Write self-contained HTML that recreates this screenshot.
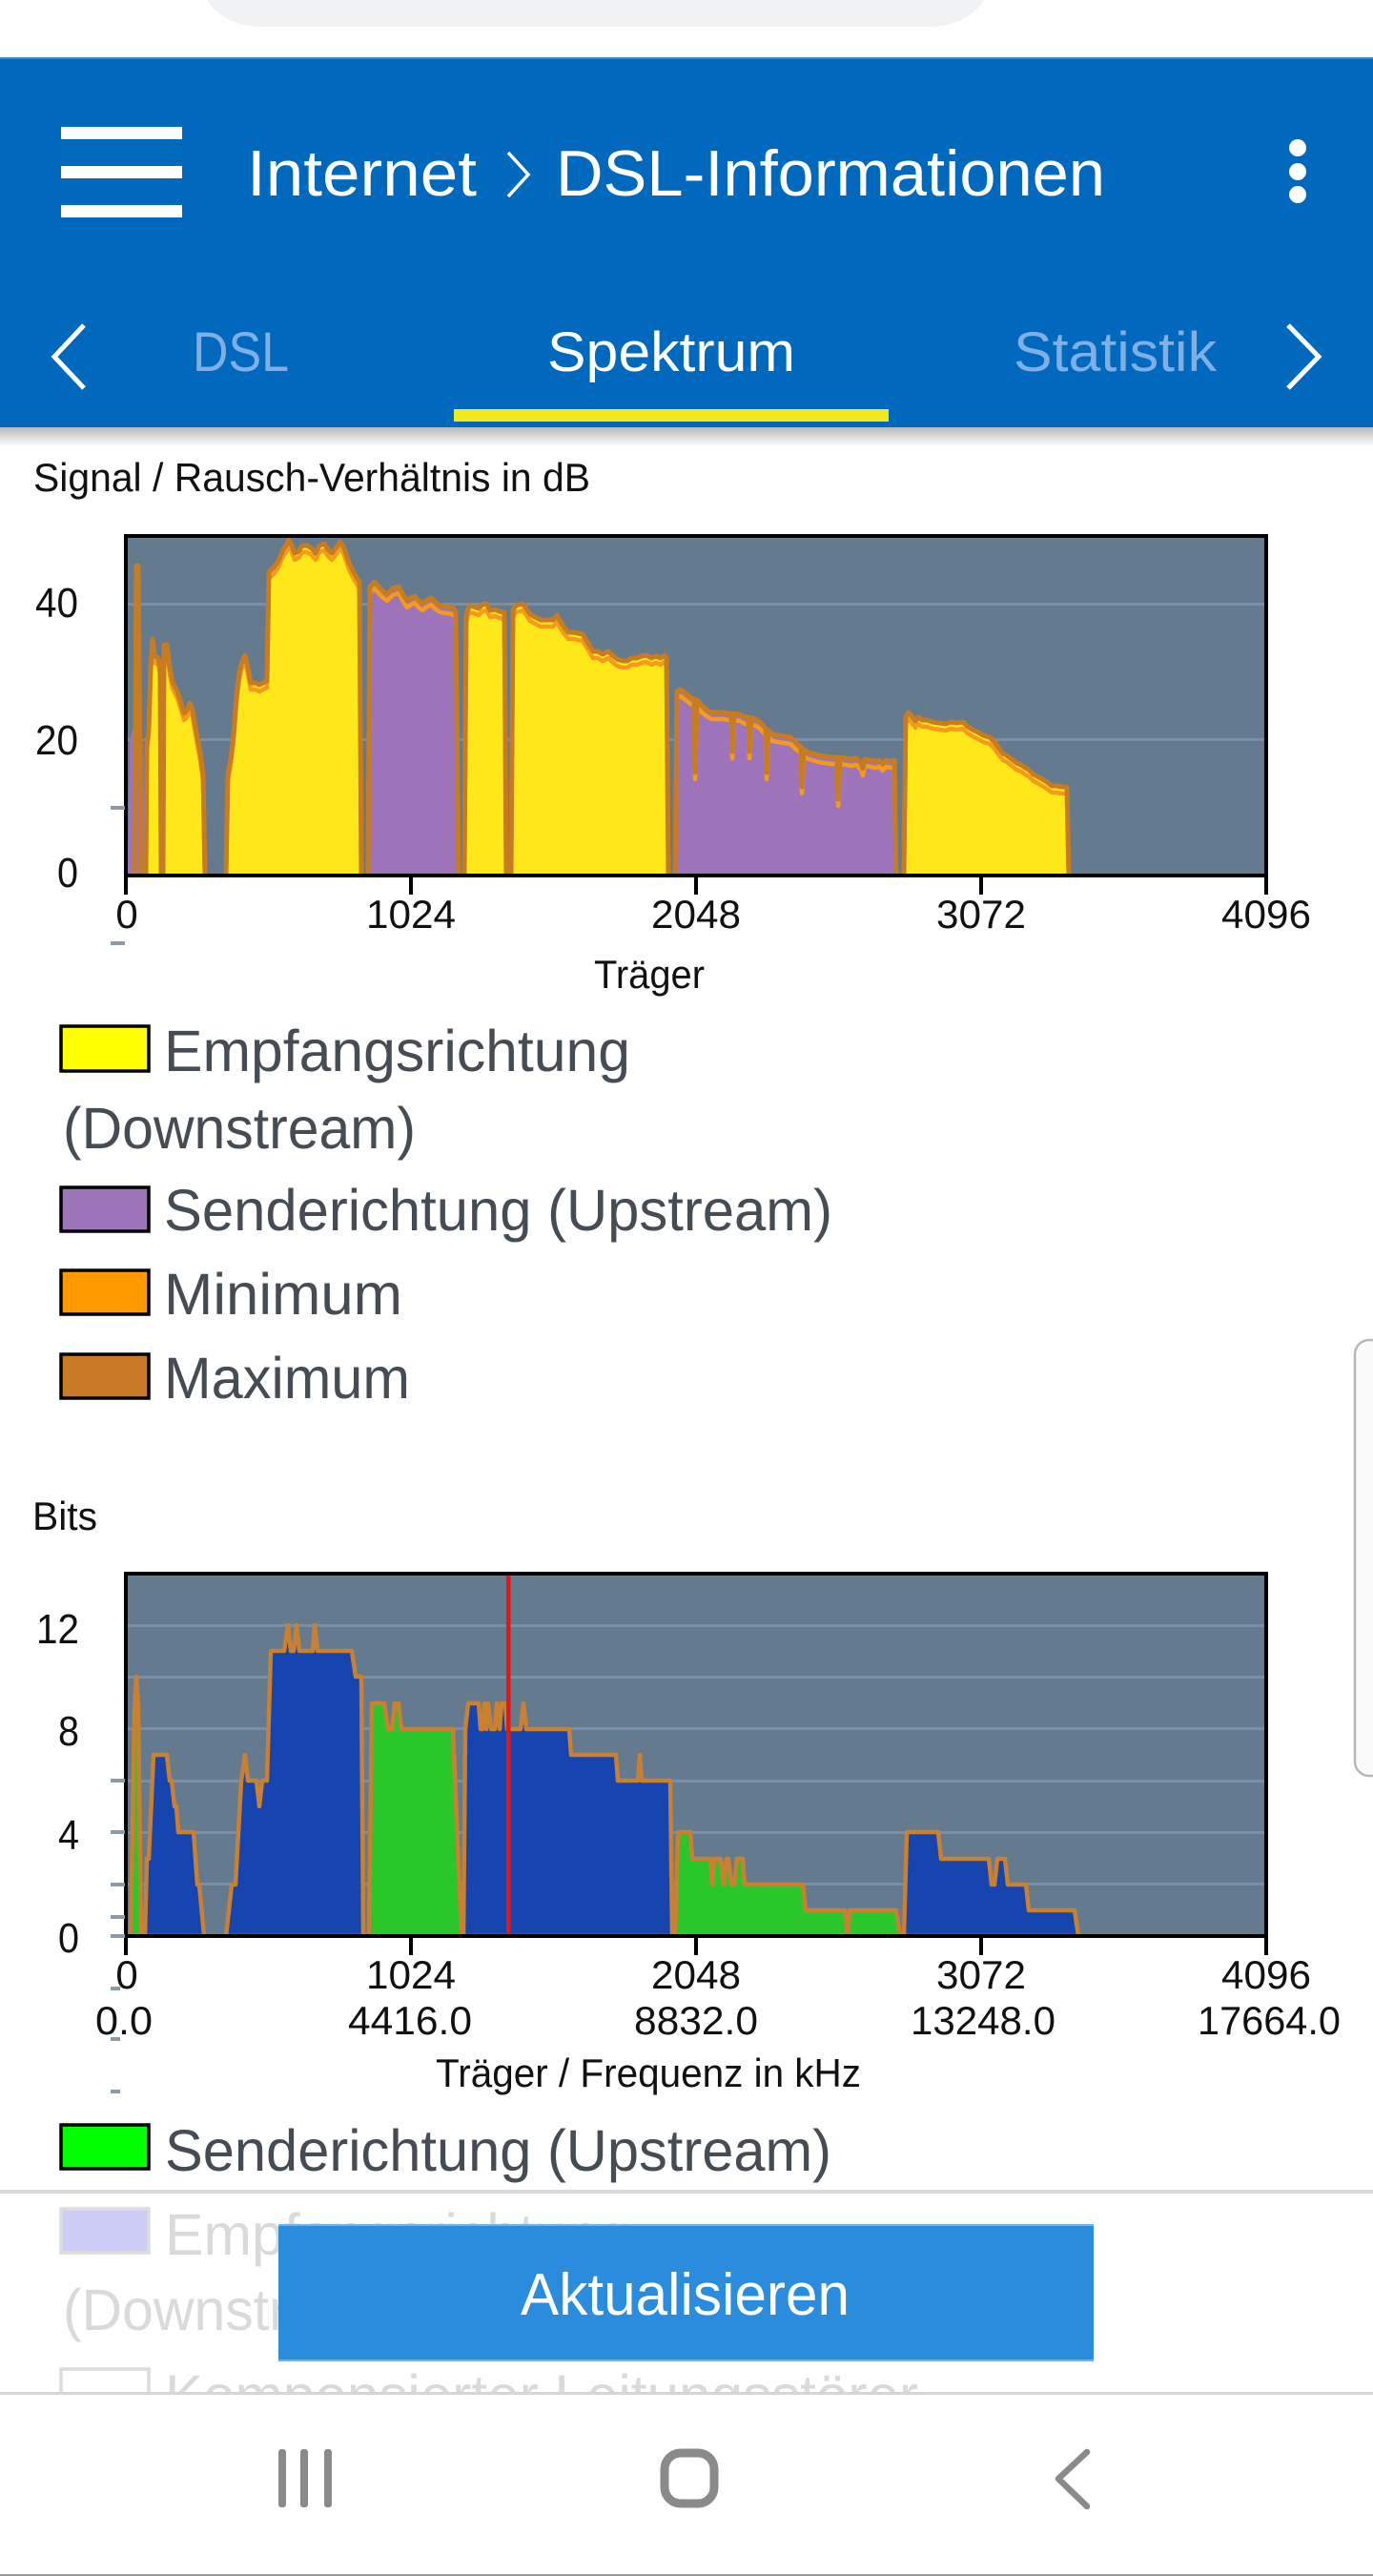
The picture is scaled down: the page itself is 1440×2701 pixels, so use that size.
<!DOCTYPE html>
<html>
<head>
<meta charset="utf-8">
<style>
html,body{margin:0;padding:0;background:#fff;}
svg{display:block;}
text{font-family:"Liberation Sans",sans-serif;}
</style>
</head>
<body>
<svg width="1440" height="2701" viewBox="0 0 1440 2701" xmlns="http://www.w3.org/2000/svg">
<defs>
  <linearGradient id="hshadow" x1="0" y1="0" x2="0" y2="1">
    <stop offset="0" stop-color="#000" stop-opacity="0.28"/>
    <stop offset="1" stop-color="#000" stop-opacity="0"/>
  </linearGradient>
  <clipPath id="clip1"><rect x="134" y="564" width="1192" height="352"/></clipPath>
  <clipPath id="clip2"><rect x="134" y="1652" width="1192" height="376"/></clipPath>
  <clipPath id="clipFade"><rect x="0" y="2300" width="1440" height="209"/></clipPath>
</defs>

<!-- top status area -->
<rect x="0" y="0" width="1440" height="60" fill="#ffffff"/>
<rect x="211" y="-70" width="827" height="98" rx="62" ry="62" fill="#f1f2f4"/>

<!-- header -->
<rect x="0" y="60" width="1440" height="388" fill="#0069bd"/>
<rect x="0" y="60" width="1440" height="2" fill="#3d8ad0"/>
<rect x="0" y="448" width="1440" height="20" fill="url(#hshadow)"/>

<!-- hamburger -->
<rect x="64" y="133" width="127" height="13" fill="#fff"/>
<rect x="64" y="174" width="127" height="13" fill="#fff"/>
<rect x="64" y="215" width="127" height="13" fill="#fff"/>

<!-- title -->
<text x="259" y="205" font-size="68" fill="#fff" textLength="241" lengthAdjust="spacingAndGlyphs">Internet</text>
<polyline points="533,160 554,183 533,206" fill="none" stroke="#fff" stroke-width="3.5"/>
<text x="583" y="205" font-size="68" fill="#fff" textLength="576" lengthAdjust="spacingAndGlyphs">DSL-Informationen</text>

<!-- kebab -->
<circle cx="1361" cy="155" r="9" fill="#fff"/>
<circle cx="1361" cy="180" r="9" fill="#fff"/>
<circle cx="1361" cy="204" r="9" fill="#fff"/>

<!-- tabs -->
<polyline points="88,341 57,374 88,407" fill="none" stroke="#fff" stroke-width="5"/>
<text x="202" y="389" font-size="58" fill="#7eb0e6" textLength="101" lengthAdjust="spacingAndGlyphs">DSL</text>
<text x="574" y="389" font-size="58" fill="#fff" textLength="260" lengthAdjust="spacingAndGlyphs">Spektrum</text>
<text x="1063" y="389" font-size="58" fill="#7eb0e6" textLength="213" lengthAdjust="spacingAndGlyphs">Statistik</text>
<polyline points="1351,341 1383,374 1351,407" fill="none" stroke="#fff" stroke-width="5"/>
<rect x="476" y="429" width="456" height="13" fill="#f2e81e"/>

<!-- ============ CHART 1 ============ -->
<text x="35" y="515" font-size="42" fill="#111" textLength="584" lengthAdjust="spacingAndGlyphs">Signal / Rausch-Verhältnis in dB</text>

<rect x="132" y="562" width="1196" height="356" fill="#647a8f"/>
<rect x="134" y="632" width="1192" height="3" fill="#7a8fa4"/>
<rect x="134" y="774" width="1192" height="3" fill="#7a8fa4"/>

<g clip-path="url(#clip1)">
  <g>
    <polygon fill="#9d74b9" points="134,918 136,775 139,765 141,770 147,768 150,775 152,918"/>
    <polygon fill="#ffe81a" points="153,918 154,780 156,765 158,700 160,670 162,688 166,690 168,700 169,918"/>
    <polygon fill="#ffe81a" points="171,918 172,676 175,676 178,700 181,715 186,725 190,738 193,748 196,745 199,737 202,745 206,768 210,790 213,812 215,918"/>
    <polygon fill="#ffe81a" points="237,918 239,812 242,795 245,770 248,730 251,705 254,693 257,687 260,700 263,716 268,716 272,718 276,716 280,714 282,600 287,595 292,588 297,576 300,572 303,566 306,572 309,580 313,578 317,572 322,572 327,575 331,580 335,572 340,570 344,576 348,580 352,575 357,568 361,575 366,590 372,602 377,610 379,918"/>
    <polygon fill="#9d74b9" points="386,918 388,615 393,610 397,615 402,620 406,623 412,617 418,615 423,624 427,630 431,627 435,625 439,630 443,633 448,629 452,627 457,632 462,635 468,636 475,637 478,642 481,918"/>
    <polygon fill="#ffe81a" points="487,918 489,645 492,635 497,636 502,638 506,634 510,633 514,640 519,639 524,641 529,642 531,918"/>
    <polygon fill="#ffe81a" points="536,918 538,640 541,635 545,634 548,633 552,638 556,644 561,647 567,650 574,650 580,650 584,645 588,652 592,658 596,663 601,663 606,664 611,665 616,673 622,683 627,683 632,686 638,683 642,687 647,691 653,693 658,693 662,690 668,690 673,688 678,687 683,690 688,688 693,690 697,687 699,690 701,918"/>
    <polygon fill="#9d74b9" points="708,918 710,725 714,723 719,727 724,731 728,733 729,810 731,734 736,740 741,744 746,747 752,747 758,747 764,748 767,748 768,788 770,748 776,749 781,752 785,752 786,788 788,753 793,754 798,758 803,764 804,810 806,766 810,770 816,771 822,772 829,773 834,778 840,783 841,825 843,786 848,789 852,790 858,792 865,793 872,794 878,794 879,838 881,794 887,795 893,796 898,795 903,800 905,806 907,796 913,797 918,798 922,797 926,801 929,797 934,798 938,797 940,918"/>
    <polygon fill="#ffe81a" points="948,918 950,752 953,747 957,752 960,756 963,752 967,755 972,755 978,757 985,758 992,759 997,757 1003,758 1010,757 1015,762 1020,765 1026,768 1031,771 1038,773 1043,778 1048,785 1052,790 1056,792 1061,796 1066,800 1071,802 1075,805 1079,807 1084,812 1088,814 1093,817 1098,820 1103,824 1108,824 1113,825 1117,825 1119,826 1121,918"/>
  </g>
  <!-- minimum (orange) line -->
  <g fill="none" stroke="#f59a1a" stroke-width="4.5" stroke-linejoin="round" transform="translate(0,7)">
    <polyline points="153,918 154,780 156,765 158,700 160,670 162,688 166,690 168,700 169,918"/>
    <polyline points="171,918 172,676 175,676 178,700 181,715 186,725 190,738 193,748 196,745 199,737 202,745 206,768 210,790 213,812 215,918"/>
    <polyline points="237,918 239,812 242,795 245,770 248,730 251,705 254,693 257,687 260,700 263,716 268,716 272,718 276,716 280,714 282,600 287,595 292,588 297,576 300,572 303,566 306,572 309,580 313,578 317,572 322,572 327,575 331,580 335,572 340,570 344,576 348,580 352,575 357,568 361,575 366,590 372,602 377,610 379,918"/>
    <polyline points="386,918 388,615 393,610 397,615 402,620 406,623 412,617 418,615 423,624 427,630 431,627 435,625 439,630 443,633 448,629 452,627 457,632 462,635 468,636 475,637 478,642 481,918"/>
    <polyline points="487,918 489,645 492,635 497,636 502,638 506,634 510,633 514,640 519,639 524,641 529,642 531,918"/>
    <polyline points="536,918 538,640 541,635 545,634 548,633 552,638 556,644 561,647 567,650 574,650 580,650 584,645 588,652 592,658 596,663 601,663 606,664 611,665 616,673 622,683 627,683 632,686 638,683 642,687 647,691 653,693 658,693 662,690 668,690 673,688 678,687 683,690 688,688 693,690 697,687 699,690 701,918"/>
    <polyline points="708,918 710,725 714,723 719,727 724,731 728,733 729,810 731,734 736,740 741,744 746,747 752,747 758,747 764,748 767,748 768,788 770,748 776,749 781,752 785,752 786,788 788,753 793,754 798,758 803,764 804,810 806,766 810,770 816,771 822,772 829,773 834,778 840,783 841,825 843,786 848,789 852,790 858,792 865,793 872,794 878,794 879,838 881,794 887,795 893,796 898,795 903,800 905,806 907,796 913,797 918,798 922,797 926,801 929,797 934,798 938,797 940,918"/>
    <polyline points="948,918 950,752 953,747 957,752 960,756 963,752 967,755 972,755 978,757 985,758 992,759 997,757 1003,758 1010,757 1015,762 1020,765 1026,768 1031,771 1038,773 1043,778 1048,785 1052,790 1056,792 1061,796 1066,800 1071,802 1075,805 1079,807 1084,812 1088,814 1093,817 1098,820 1103,824 1108,824 1113,825 1117,825 1119,826 1121,918"/>
  </g>
  <!-- maximum (brown) line -->
  <g fill="none" stroke="#c77c22" stroke-width="5" stroke-linejoin="round">
    <polyline points="141,918 143,593 145,593 148,918"/>
    <polyline points="153,918 154,780 156,765 158,700 160,670 162,688 166,690 168,700 169,918"/>
    <polyline points="171,918 172,676 175,676 178,700 181,715 186,725 190,738 193,748 196,745 199,737 202,745 206,768 210,790 213,812 215,918"/>
    <polyline points="237,918 239,812 242,795 245,770 248,730 251,705 254,693 257,687 260,700 263,716 268,716 272,718 276,716 280,714 282,600 287,595 292,588 297,576 300,572 303,566 306,572 309,580 313,578 317,572 322,572 327,575 331,580 335,572 340,570 344,576 348,580 352,575 357,568 361,575 366,590 372,602 377,610 379,918"/>
    <polyline points="386,918 388,615 393,610 397,615 402,620 406,623 412,617 418,615 423,624 427,630 431,627 435,625 439,630 443,633 448,629 452,627 457,632 462,635 468,636 475,637 478,642 481,918"/>
    <polyline points="487,918 489,645 492,635 497,636 502,638 506,634 510,633 514,640 519,639 524,641 529,642 531,918"/>
    <polyline points="536,918 538,640 541,635 545,634 548,633 552,638 556,644 561,647 567,650 574,650 580,650 584,645 588,652 592,658 596,663 601,663 606,664 611,665 616,673 622,683 627,683 632,686 638,683 642,687 647,691 653,693 658,693 662,690 668,690 673,688 678,687 683,690 688,688 693,690 697,687 699,690 701,918"/>
    <polyline points="708,918 710,725 714,723 719,727 724,731 728,733 729,810 731,734 736,740 741,744 746,747 752,747 758,747 764,748 767,748 768,788 770,748 776,749 781,752 785,752 786,788 788,753 793,754 798,758 803,764 804,810 806,766 810,770 816,771 822,772 829,773 834,778 840,783 841,825 843,786 848,789 852,790 858,792 865,793 872,794 878,794 879,838 881,794 887,795 893,796 898,795 903,800 905,806 907,796 913,797 918,798 922,797 926,801 929,797 934,798 938,797 940,918"/>
    <polyline points="948,918 950,752 953,747 957,752 960,756 963,752 967,755 972,755 978,757 985,758 992,759 997,757 1003,758 1010,757 1015,762 1020,765 1026,768 1031,771 1038,773 1043,778 1048,785 1052,790 1056,792 1061,796 1066,800 1071,802 1075,805 1079,807 1084,812 1088,814 1093,817 1098,820 1103,824 1108,824 1113,825 1117,825 1119,826 1121,918"/>
  </g>
</g>
<rect x="132" y="562" width="1196" height="356" fill="none" stroke="#000" stroke-width="4"/>
<!-- x ticks -->
<g stroke="#000" stroke-width="4">
  <line x1="132" y1="918" x2="132" y2="938"/>
  <line x1="431" y1="918" x2="431" y2="938"/>
  <line x1="730" y1="918" x2="730" y2="938"/>
  <line x1="1029" y1="918" x2="1029" y2="938"/>
  <line x1="1328" y1="918" x2="1328" y2="938"/>
</g>
<g stroke="#8d9aa8" stroke-width="4">
  <line x1="116" y1="847" x2="131" y2="847"/>
  <line x1="116" y1="989" x2="131" y2="989"/>
</g>
<g font-size="44" fill="#111" text-anchor="end">
  <text x="82" y="647" textLength="45" lengthAdjust="spacingAndGlyphs">40</text>
  <text x="82" y="791" textLength="45" lengthAdjust="spacingAndGlyphs">20</text>
  <text x="82" y="930" textLength="22" lengthAdjust="spacingAndGlyphs">0</text>
</g>
<g font-size="42" fill="#111" text-anchor="middle">
  <text x="133" y="973">0</text>
  <text x="431" y="973" textLength="94" lengthAdjust="spacingAndGlyphs">1024</text>
  <text x="730" y="973" textLength="94" lengthAdjust="spacingAndGlyphs">2048</text>
  <text x="1029" y="973" textLength="94" lengthAdjust="spacingAndGlyphs">3072</text>
  <text x="1328" y="973" textLength="94" lengthAdjust="spacingAndGlyphs">4096</text>
</g>
<text x="623" y="1036" font-size="42" fill="#111" textLength="116" lengthAdjust="spacingAndGlyphs">Träger</text>

<!-- legend 1 -->
<g stroke="#000" stroke-width="3.5">
  <rect x="64" y="1076" width="92" height="47" fill="#ffff00"/>
  <rect x="64" y="1245" width="92" height="46" fill="#9d74b9"/>
  <rect x="64" y="1332" width="92" height="46" fill="#ff9900"/>
  <rect x="64" y="1420" width="92" height="46" fill="#c97a26"/>
</g>
<g font-size="61" fill="#464c53">
  <text x="172" y="1123" textLength="489" lengthAdjust="spacingAndGlyphs">Empfangsrichtung</text>
  <text x="66" y="1204" textLength="370" lengthAdjust="spacingAndGlyphs">(Downstream)</text>
  <text x="172" y="1290" textLength="701" lengthAdjust="spacingAndGlyphs">Senderichtung (Upstream)</text>
  <text x="172" y="1378" textLength="250" lengthAdjust="spacingAndGlyphs">Minimum</text>
  <text x="172" y="1466" textLength="258" lengthAdjust="spacingAndGlyphs">Maximum</text>
</g>

<!-- scrollbar -->
<rect x="1421" y="1405" width="40" height="457" rx="15" ry="15" fill="#fafafa" stroke="#b8b8b8" stroke-width="2.5"/>

<!-- ============ CHART 2 ============ -->
<text x="34" y="1604" font-size="42" fill="#111" textLength="68" lengthAdjust="spacingAndGlyphs">Bits</text>

<rect x="132" y="1650" width="1196" height="380" fill="#647a8f"/>
<g fill="#7a8fa4">
  <rect x="134" y="1703" width="1192" height="3"/>
  <rect x="134" y="1757" width="1192" height="3"/>
  <rect x="134" y="1811" width="1192" height="3"/>
  <rect x="134" y="1866" width="1192" height="3"/>
  <rect x="134" y="1920" width="1192" height="3"/>
  <rect x="134" y="1974" width="1192" height="3"/>
</g>
<g clip-path="url(#clip2)">
  <g stroke="#c98030" stroke-width="4.5" stroke-linejoin="round">
    <polygon fill="#2ac72a" points="137,2030 141,1790 143,1758 145,1790 148,2030"/>
    <polygon fill="#1745b0" points="152,2030 154,1949 156,1949 161,1840 175,1840 178,1867 180,1867 183,1894 185,1894 187,1921 203,1921 207,1976 209,1976 214,2030"/>
    <polygon fill="#1745b0" points="237,2030 243,1976 247,1976 253,1867 257,1840 260,1867 269,1867 272,1894 275,1867 280,1867 284,1731 298,1731 302,1704 305,1731 308,1731 311,1704 314,1731 328,1731 330,1704 333,1731 369,1731 373,1758 379,1758 381,2030"/>
    <polygon fill="#2ac72a" points="387,2030 390,1786 403,1786 407,1813 411,1813 414,1786 418,1786 421,1813 475,1813 484,2030"/>
    <polygon fill="#1745b0" points="486,2030 488,1813 491,1786 502,1786 504,1813 506,1813 508,1786 510,1813 512,1786 515,1813 519,1813 521,1786 524,1813 526,1786 530,1786 532,1813 546,1813 549,1786 552,1813 597,1813 599,1840 646,1840 648,1867 669,1867 671,1840 673,1867 703,1867 705,2030"/>
    <polygon fill="#2ac72a" points="708,2030 711,1921 724,1921 726,1949 745,1949 747,1976 749,1949 756,1949 759,1976 762,1949 764,1949 767,1976 770,1976 773,1949 779,1949 781,1976 842,1976 845,2003 886,2003 889,2030 891,2003 940,2003 944,2030"/>
    <polygon fill="#1745b0" points="948,2030 951,1921 984,1921 987,1949 1037,1949 1040,1976 1043,1976 1046,1949 1054,1949 1057,1976 1076,1976 1079,2003 1127,2003 1131,2030"/>
  </g>
  <rect x="531" y="1650" width="4.5" height="380" fill="#e8141a"/>
</g>
<rect x="132" y="1650" width="1196" height="380" fill="none" stroke="#000" stroke-width="4"/>
<g stroke="#000" stroke-width="4">
  <line x1="132" y1="2030" x2="132" y2="2050"/>
  <line x1="431" y1="2030" x2="431" y2="2050"/>
  <line x1="730" y1="2030" x2="730" y2="2050"/>
  <line x1="1029" y1="2030" x2="1029" y2="2050"/>
  <line x1="1328" y1="2030" x2="1328" y2="2050"/>
</g>
<g stroke="#8d9aa8" stroke-width="4">
  <line x1="116" y1="1867" x2="131" y2="1867"/>
  <line x1="116" y1="1921" x2="131" y2="1921"/>
  <line x1="116" y1="1976" x2="131" y2="1976"/>
  <line x1="116" y1="2010" x2="131" y2="2010"/>
  <line x1="116" y1="2030" x2="131" y2="2030"/>
  <line x1="116" y1="2085" x2="126" y2="2085"/>
  <line x1="116" y1="2138" x2="126" y2="2138"/>
  <line x1="116" y1="2193" x2="126" y2="2193"/>
</g>
<g font-size="44" fill="#111" text-anchor="end">
  <text x="83" y="1723" textLength="45" lengthAdjust="spacingAndGlyphs">12</text>
  <text x="83" y="1830" textLength="22" lengthAdjust="spacingAndGlyphs">8</text>
  <text x="83" y="1939" textLength="22" lengthAdjust="spacingAndGlyphs">4</text>
  <text x="83" y="2047" textLength="22" lengthAdjust="spacingAndGlyphs">0</text>
</g>
<g font-size="42" fill="#111" text-anchor="middle">
  <text x="133" y="2085">0</text>
  <text x="431" y="2085" textLength="94" lengthAdjust="spacingAndGlyphs">1024</text>
  <text x="730" y="2085" textLength="94" lengthAdjust="spacingAndGlyphs">2048</text>
  <text x="1029" y="2085" textLength="94" lengthAdjust="spacingAndGlyphs">3072</text>
  <text x="1328" y="2085" textLength="94" lengthAdjust="spacingAndGlyphs">4096</text>
  <text x="130" y="2133" textLength="60" lengthAdjust="spacingAndGlyphs">0.0</text>
  <text x="430" y="2133" textLength="130" lengthAdjust="spacingAndGlyphs">4416.0</text>
  <text x="730" y="2133" textLength="130" lengthAdjust="spacingAndGlyphs">8832.0</text>
  <text x="1031" y="2133" textLength="152" lengthAdjust="spacingAndGlyphs">13248.0</text>
  <text x="1331" y="2133" textLength="150" lengthAdjust="spacingAndGlyphs">17664.0</text>
</g>
<text x="457" y="2188" font-size="42" fill="#111" textLength="446" lengthAdjust="spacingAndGlyphs">Träger / Frequenz in kHz</text>

<!-- legend 2 -->
<rect x="64" y="2228" width="92" height="46" fill="#00ff00" stroke="#000" stroke-width="3.5"/>
<text x="173" y="2276" font-size="61" fill="#464c53" textLength="699" lengthAdjust="spacingAndGlyphs">Senderichtung (Upstream)</text>

<rect x="0" y="2296" width="1440" height="4" fill="#d9d9d9"/>

<!-- faded legend items -->
<g clip-path="url(#clipFade)">
  <rect x="64" y="2316" width="92" height="46" fill="#ccccf7" stroke="#dcdcdc" stroke-width="3.5"/>
  <text x="173" y="2364" font-size="61" fill="#dadada" textLength="489" lengthAdjust="spacingAndGlyphs">Empfangsrichtung</text>
  <text x="66" y="2443" font-size="61" fill="#dadada" textLength="370" lengthAdjust="spacingAndGlyphs">(Downstream)</text>
  <rect x="64" y="2484" width="92" height="46" fill="#ffffff" stroke="#dcdcdc" stroke-width="3.5"/>
  <text x="173" y="2533" font-size="61" fill="#dadada" textLength="790" lengthAdjust="spacingAndGlyphs">Kompensierter Leitungsstörer</text>
</g>

<!-- button -->
<rect x="292" y="2332" width="855" height="144" fill="#2a8cdc"/>
<rect x="292" y="2332" width="855" height="2" fill="#6fb4ea"/>
<rect x="292" y="2474" width="855" height="2" fill="#6fb4ea"/>
<text x="546" y="2427" font-size="62" fill="#fff" textLength="345" lengthAdjust="spacingAndGlyphs">Aktualisieren</text>

<!-- bottom nav -->
<rect x="0" y="2509" width="1440" height="192" fill="#ffffff"/>
<rect x="0" y="2508" width="1440" height="3" fill="#d6d6d6"/>
<g fill="#8a8a8a">
  <rect x="292" y="2568" width="8" height="61" rx="3"/>
  <rect x="315" y="2568" width="8" height="61" rx="3"/>
  <rect x="340" y="2568" width="8" height="61" rx="3"/>
</g>
<rect x="697" y="2572" width="52" height="53" rx="17" ry="17" fill="none" stroke="#8a8a8a" stroke-width="9"/>
<polyline points="1140,2571 1110,2599 1140,2628" fill="none" stroke="#8a8a8a" stroke-width="6.5" stroke-linecap="round" stroke-linejoin="round"/>
<rect x="0" y="2699" width="1440" height="2" fill="#9a9a9a"/>
</svg>
</body>
</html>
